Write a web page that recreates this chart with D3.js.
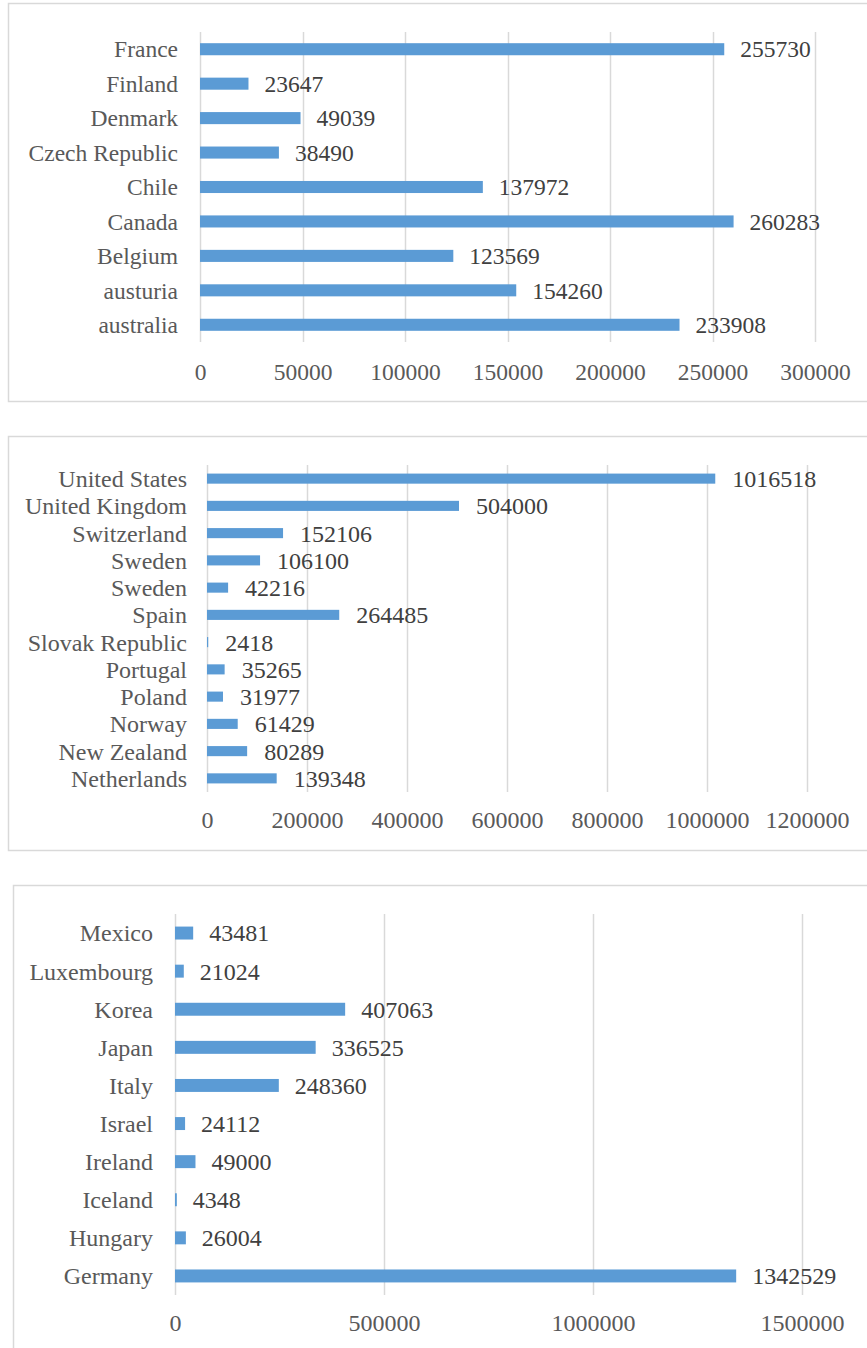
<!DOCTYPE html>
<html>
<head>
<meta charset="utf-8">
<script src="https://cdn.jsdelivr.net/npm/d3@7"></script>
<style>
  html, body { margin: 0; padding: 0; background: #fff; }
  svg { display: block; }
  text { font-family: "Liberation Serif", "Times New Roman", serif; }
</style>
</head>
<body>
<svg id="chart" width="867" height="1348"></svg>
<script>
// Panel 1
const countries1 = ["France", "Finland", "Denmark", "Czech Republic", "Chile", "Canada", "Belgium", "austuria", "australia"];
const values1 = [255730, 23647, 49039, 38490, 137972, 260283, 123569, 154260, 233908];
const ticks1 = [0, 50000, 100000, 150000, 200000, 250000, 300000];

// Panel 2
const countries2 = ["United States", "United Kingdom", "Switzerland", "Sweden", "Sweden ", "Spain", "Slovak Republic", "Portugal", "Poland", "Norway", "New Zealand", "Netherlands"];
const values2 = [1016518, 504000, 152106, 106100, 42216, 264485, 2418, 35265, 31977, 61429, 80289, 139348];
const ticks2 = [0, 200000, 400000, 600000, 800000, 1000000, 1200000];

// Panel 3
const countries3 = ["Mexico", "Luxembourg", "Korea", "Japan", "Italy", "Israel", "Ireland", "Iceland", "Hungary", "Germany"];
const values3 = [43481, 21024, 407063, 336525, 248360, 24112, 49000, 4348, 26004, 1342529];
const ticks3 = [0, 500000, 1000000, 1500000];

const svg = d3.select("#chart");
const BAR = "#5B9BD5";
const GRID = "#d9d9d9";
const LABEL = "#595959";
const VALUE = "#404040";

function drawPanel(cfg) {
  const g = svg.append("g");

  // chart frame
  g.append("rect")
    .attr("x", cfg.frame[0] + 0.5).attr("y", cfg.frame[1] + 0.5)
    .attr("width", cfg.frame[2] - cfg.frame[0]).attr("height", cfg.frame[3] - cfg.frame[1])
    .attr("fill", "#fff").attr("stroke", GRID).attr("stroke-width", 1.5);

  const x = d3.scaleLinear().domain([0, cfg.max]).range([cfg.x0, cfg.x1]);
  const y = d3.scaleBand().domain(cfg.cats).range([cfg.y0, cfg.y1]).paddingInner(cfg.pad).paddingOuter(cfg.pad / 2);

  // vertical gridlines (the zero line doubles as the category axis)
  g.append("g").selectAll("line").data(cfg.ticks).join("line")
    .attr("x1", d => Math.round(x(d)) + 0.5).attr("x2", d => Math.round(x(d)) + 0.5)
    .attr("y1", cfg.y0).attr("y2", cfg.y1)
    .attr("stroke", GRID).attr("stroke-width", 1.5);

  // value axis tick labels
  const xAxis = d3.axisBottom(x).tickValues(cfg.ticks).tickFormat(d3.format("d")).tickSize(0).tickPadding(0);
  const ax = g.append("g").attr("transform", `translate(0,${cfg.tickY})`).call(xAxis);
  ax.select(".domain").remove();
  ax.selectAll("text")
    .attr("dy", "0.35em").attr("y", 0)
    .attr("fill", LABEL).attr("font-size", cfg.font);

  // category labels
  g.append("g").selectAll("text").data(cfg.cats).join("text")
    .attr("x", cfg.x0 - cfg.labelGap)
    .attr("y", d => y(d) + y.bandwidth() / 2)
    .attr("dy", "0.35em")
    .attr("text-anchor", "end")
    .attr("fill", LABEL).attr("font-size", cfg.font)
    .text(d => d.trim());

  // bars
  g.append("g").selectAll("rect").data(cfg.vals).join("rect")
    .attr("x", x(0))
    .attr("y", (d, i) => y(cfg.cats[i]))
    .attr("width", d => x(d) - x(0))
    .attr("height", y.bandwidth())
    .attr("fill", BAR);

  // data labels
  g.append("g").selectAll("text").data(cfg.vals).join("text")
    .attr("x", d => x(d) + cfg.valGap)
    .attr("y", (d, i) => y(cfg.cats[i]) + y.bandwidth() / 2)
    .attr("dy", "0.35em")
    .attr("fill", VALUE).attr("font-size", cfg.font)
    .text(d => d);
}

drawPanel({
  frame: [8, 3, 872, 401],
  cats: countries1, vals: values1, ticks: ticks1, max: 300000,
  x0: 200, x1: 815, y0: 32, y1: 342, pad: 0.65,
  tickY: 372, font: 23.5, labelGap: 22, valGap: 16
});

drawPanel({
  frame: [8, 436, 872, 850],
  cats: countries2, vals: values2, ticks: ticks2, max: 1200000,
  x0: 207, x1: 807, y0: 465, y1: 792, pad: 0.63,
  tickY: 820, font: 24, labelGap: 20, valGap: 17
});

drawPanel({
  frame: [13, 885, 872, 1352],
  cats: countries3, vals: values3, ticks: ticks3, max: 1500000,
  x0: 175, x1: 802, y0: 914, y1: 1295, pad: 0.66,
  tickY: 1323, font: 24, labelGap: 22, valGap: 16
});
</script>
</body>
</html>
